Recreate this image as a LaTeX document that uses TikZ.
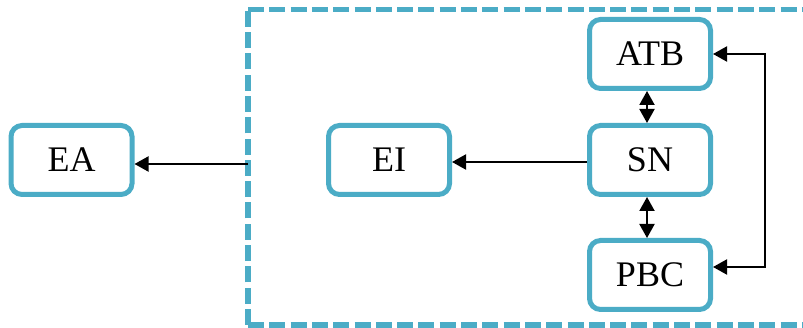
\documentclass[tikz,border=0pt]{standalone}
\usepackage{fontspec}
\setmainfont{Liberation Serif}
\usetikzlibrary{arrows.meta,calc}
\definecolor{boxblue}{HTML}{4BACC6}
\begin{document}
\begin{tikzpicture}[x=1pt,y=-1pt,
  tip/.tip={Triangle[length=14pt,width=15pt]},
  blk/.style={draw=boxblue,line width=5pt,rounded corners=11pt,fill=white,
    minimum width=121pt,minimum height=69pt,inner sep=0pt,
    font=\fontsize{36}{40}\selectfont},
  conn/.style={line width=2pt,-tip},
  dconn/.style={line width=2pt,tip-tip}]
\useasboundingbox (0,0) rectangle (803,328);
\draw[boxblue,line width=5.5pt,dash pattern=on 16pt off 5.3pt] (248,9.5) -- (808,9.5) (248,325) -- (808,325) (248,325) -- (248,9.5);
\coordinate (frameL) at (248,164);
\node[blk] (EA) at (71.5,160) {EA};
\node[blk] (EI) at (389,160) {EI};
\node[blk] (ATB) at (650,54) {ATB};
\node[blk] (SN) at (650,160) {SN};
\node[blk] (PBC) at (650,275) {PBC};
\draw[conn] (frameL) -- (EA.east |- frameL);
\draw[conn] ($(SN.west)+(0,2)$) -- ($(EI.east)+(0,2)$);
\draw[dconn] (ATB.south -| 647,0) -- (SN.north -| 647,0);
\draw[dconn] (SN.south -| 647,0) -- (PBC.north -| 647,0);
\coordinate (rA) at (765,54);
\coordinate (rP) at (765,267);
\draw[dconn] (ATB.east) -- (rA) -- (rP) -- (PBC.east |- rP);
\end{tikzpicture}
\end{document}
